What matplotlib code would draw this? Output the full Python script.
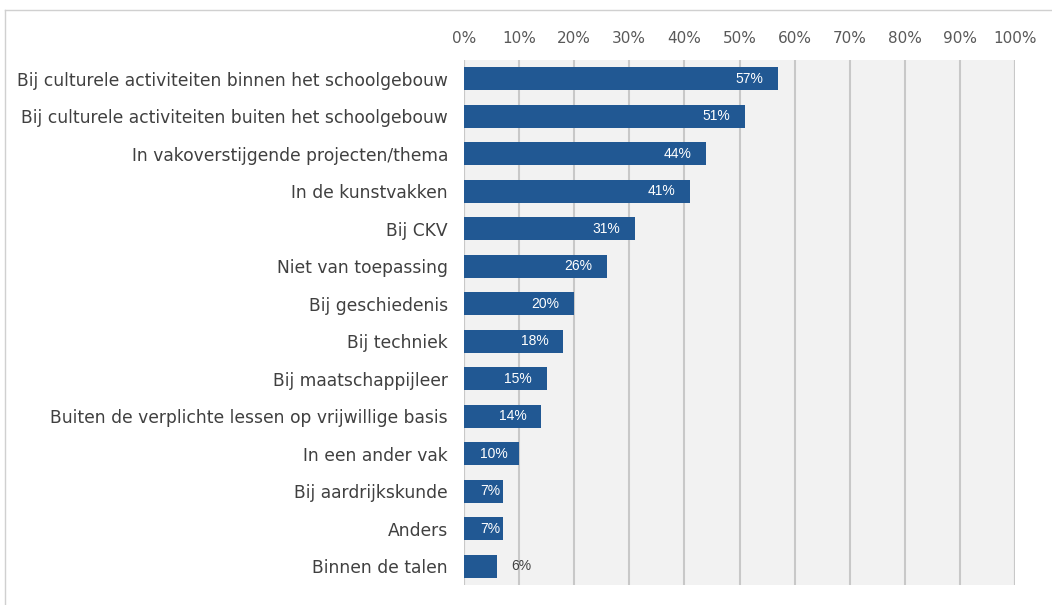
import matplotlib.pyplot as plt
from matplotlib.lines import Line2D

categories = [
    "Bij culturele activiteiten binnen het schoolgebouw",
    "Bij culturele activiteiten buiten het schoolgebouw",
    "In vakoverstijgende projecten/thema",
    "In de kunstvakken",
    "Bij CKV",
    "Niet van toepassing",
    "Bij geschiedenis",
    "Bij techniek",
    "Bij maatschappijleer",
    "Buiten de verplichte lessen op vrijwillige basis",
    "In een ander vak",
    "Bij aardrijkskunde",
    "Anders",
    "Binnen de talen",
]
values = [57, 51, 44, 41, 31, 26, 20, 18, 15, 14, 10, 7, 7, 6]
ticks = list(range(0, 101, 10))

bar_color = "#215893"
text_color = "#404040"

fig = plt.figure(figsize=(10.52, 6.05), dpi=100)
ax = fig.add_axes([464 / 1052, 20 / 605, 551 / 1052, 525 / 605])
ax.set_facecolor("#f2f2f2")

y = list(range(len(categories)))
ax.barh(y, values, height=0.62, color=bar_color, zorder=3)

for yi, v in zip(y, values):
    if v <= 6:
        ax.text(v + 2.6, yi, f"{v}%", ha="left", va="center",
                fontsize=10, color=text_color, family="Liberation Sans", zorder=4)
    elif v < 12:
        ax.text(2.9, yi, f"{v}%", ha="left", va="center",
                fontsize=10, color="white", family="Liberation Sans", zorder=4)
    else:
        ax.text(v - 2.7, yi, f"{v}%", ha="right", va="center",
                fontsize=10, color="white", family="Liberation Sans", zorder=4)

ax.set_xlim(0, 100)
ax.set_ylim(len(categories) - 0.5, -0.5)
ax.set_xticks(ticks)
ax.set_xticklabels([f"{t}%" for t in ticks], fontsize=11, color="#595959")
ax.xaxis.tick_top()
ax.tick_params(axis="x", length=0, pad=10)
ax.set_yticks(y)
ax.set_yticklabels(categories, fontsize=12.3, color=text_color)
ax.tick_params(axis="y", length=0, pad=11.5)

ax.grid(axis="x", color="#c8c8c8", linewidth=1.5, zorder=1)
for s in ax.spines.values():
    s.set_visible(False)
ax.axvline(100, color="#c8c8c8", linewidth=1.5, zorder=1)
ax.axvline(0, color="#c8c8c8", linewidth=1.5, zorder=2)

# outer frame (left and top edges visible)
fig.add_artist(Line2D([5 / 1052, 5 / 1052], [0, 1 - 10 / 605],
                      transform=fig.transFigure, color="#d0d0d0", linewidth=1))
fig.add_artist(Line2D([5 / 1052, 1], [1 - 10 / 605, 1 - 10 / 605],
                      transform=fig.transFigure, color="#d0d0d0", linewidth=1))

fig.savefig("out.png", dpi=100)
